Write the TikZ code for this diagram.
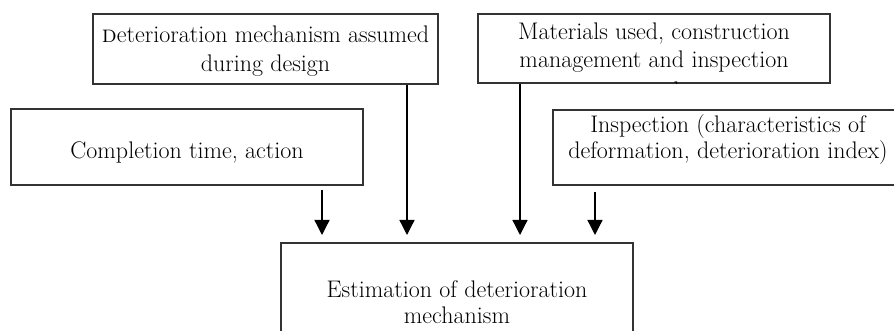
\documentclass[tikz,border=0pt]{standalone}
\usetikzlibrary{arrows.meta}
\begin{document}
\begin{tikzpicture}[x=1pt,y=-1pt,
  box/.style={draw=black!80,line width=1.3pt,inner sep=0pt},
  txt/.style={align=center,inner sep=0pt,font=\fontsize{24}{26}\selectfont},
  arr/.style={draw=black,line width=1.3pt,-{Triangle[width=15pt,length=15pt]}}]
\clip (0,0) rectangle (894,331);
\useasboundingbox (0,0) rectangle (894,331);
% boxes
\node[box,minimum width=345pt,minimum height=70pt] (A) at (265.5,49) {};
\node[box,minimum width=352pt,minimum height=69pt] (B) at (654,48.5) {};
\node[box,minimum width=352pt,minimum height=76pt] (C) at (187,147) {};
\node[box,minimum width=350pt,minimum height=75pt] (D) at (728,147.5) {};
\node[box,minimum width=352pt,minimum height=100pt] (E) at (457,293) {};
% texts
\node[txt] (At) at (265.5,51) {\textsc{d}eterioration mechanism assumed\\[3pt]during design};
\node[txt] (Ct) at (187,152) {Completion time, action};
\node[txt] (Dt) at (728,140) {Inspection (characteristics of\\deformation, deterioration index)};
\node[txt] (Et) at (457,302) {Estimation of deterioration\\mechanism};
\begin{scope}
\clip (B.north west) rectangle (B.south east);
\node[txt,anchor=north] (Bt) at (654,23) {Materials used, construction\\[2pt]management and inspection\\[5pt]records};
\end{scope}
% arrow end coordinates
\coordinate (t1) at (322,235);
\coordinate (t2) at (407,235);
\coordinate (t3) at (520,235);
\coordinate (t4) at (595,235);
\coordinate (s1) at (322,190);
\coordinate (s4) at (595,192);
\draw[arr] (s1) -- (t1);
\draw[arr] (t2 |- A.south) -- (t2);
\draw[arr] (t3 |- B.south) -- (t3);
\draw[arr] (s4) -- (t4);
\end{tikzpicture}
\end{document}
